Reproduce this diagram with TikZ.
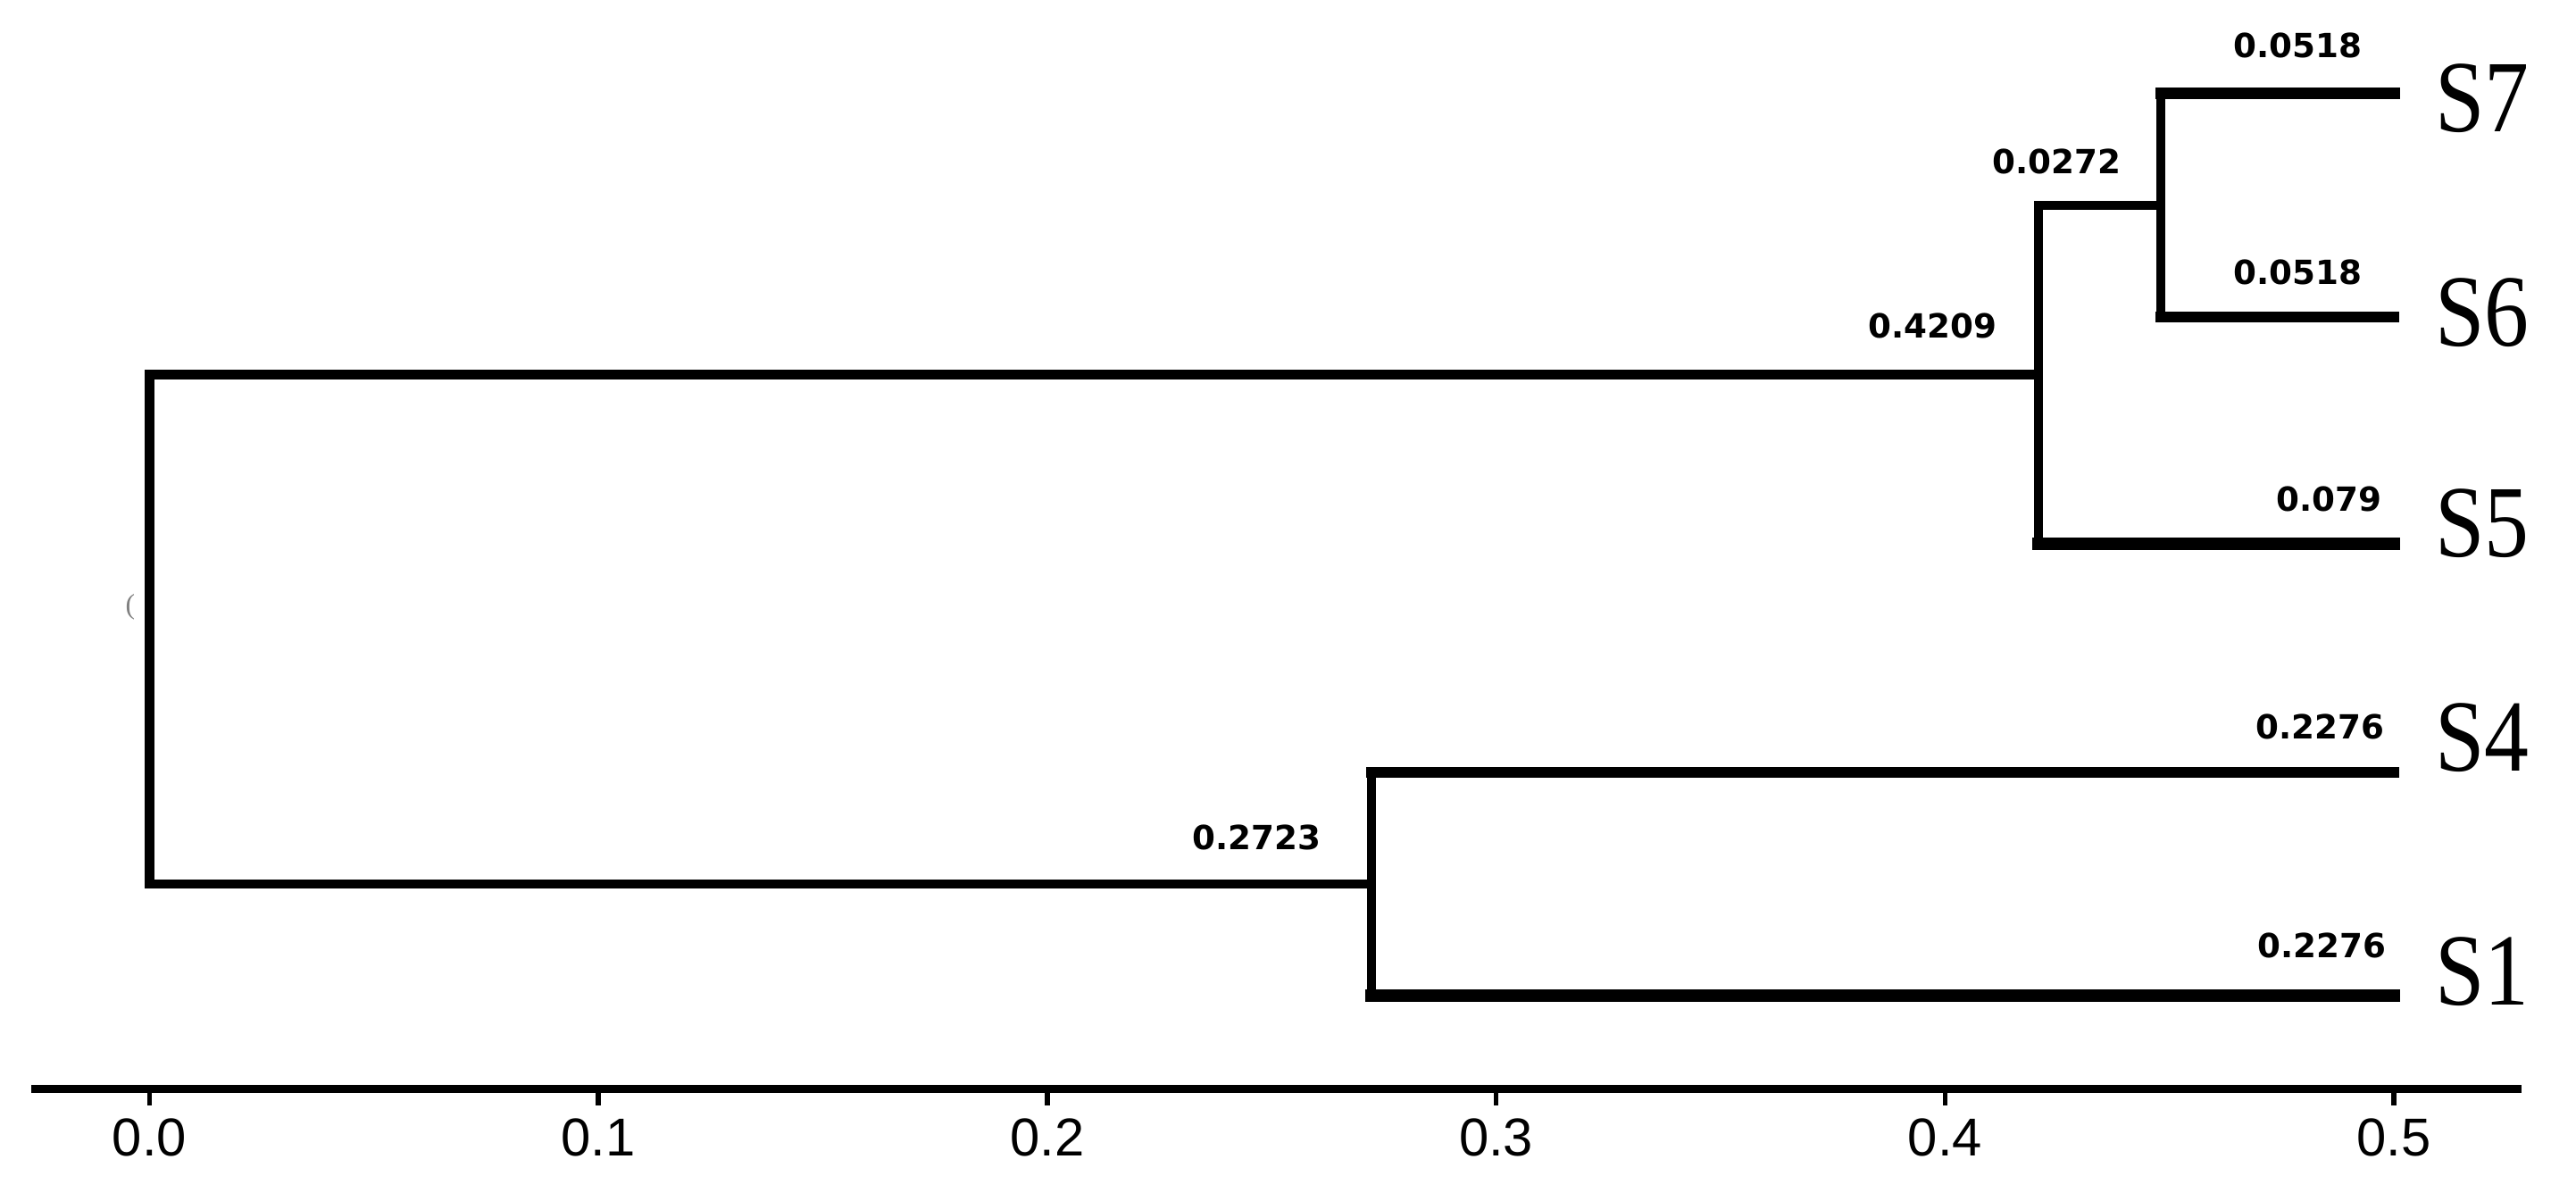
\documentclass[tikz,border=0pt]{standalone}
\usepackage{fontspec}
\usepackage{graphicx}
\setmainfont{Liberation Serif}
\newfontfamily\lenfont{DejaVu Sans}
\newfontfamily\tickfont{Liberation Sans}
\usepackage{tikz}

\tikzset{
	branch/.style = {line width = 3pt, line cap = rect},
	leafline/.style = {branch, line width = 3.5pt},
	axisline/.style = {line width = 2.6pt, line cap = rect},
	tickline/.style = {line width = 1.6pt},
	len/.style = {font = \lenfont\bfseries\fontsize{10.6}{12}\selectfont, inner sep = 0pt},
	taxon/.style = {font = \fontsize{32.6}{36}\selectfont, inner sep = 0pt},
	ticklab/.style = {font = \tickfont\fontsize{17}{19}\selectfont, inner sep = 0pt}
}

\begin{document}
\begin{tikzpicture}
	\useasboundingbox (0, 0) rectangle (28.85, 13.44);
	% joins of the tree
	\coordinate (root) at (1.675, 6.39);
	\coordinate (c2723) at (15.36, 3.54);
	\coordinate (c4209) at (22.83, 9.245);
	\coordinate (c0272) at (24.20, 11.14);
	% ends of the leaves
	\coordinate (e7) at (26.81, 12.39);
	\coordinate (e6) at (26.81, 9.89);
	\coordinate (e5) at (26.81, 7.35);
	\coordinate (e4) at (26.81, 4.79);
	\coordinate (e1) at (26.81, 2.29);
	% uprights
	\draw [branch] (root |- c2723) -- (root |- c4209);
	\draw [branch] (c4209 |- e5) -- (c4209 |- c0272);
	\draw [branch] (c0272 |- e6) -- (c0272 |- e7);
	\draw [branch] (c2723 |- e1) -- (c2723 |- e4);
	% branches
	\draw [branch] (root |- c4209) -- (c4209);
	\draw [branch] (root |- c2723) -- (c2723);
	\draw [branch] (c4209 |- c0272) -- (c0272);
	\draw [leafline, line width = 3.7pt] (c0272 |- e7) -- (e7);
	\draw [leafline, line width = 3.4pt] (c0272 |- e6) -- (e6);
	\draw [leafline, line width = 3.9pt] (c4209 |- e5) -- (e5);
	\draw [leafline, line width = 3.4pt] (c2723 |- e4) -- (e4);
	\draw [leafline, line width = 4pt] (c2723 |- e1) -- (e1);
	% branch lengths
	\node [len] (l4209) at (21.64, 9.79) {0.4209};
	\node [len] (l2723) at (14.07, 4.06) {0.2723};
	\node [len] (l0272) at (23.03, 11.63) {0.0272};
	\node [len] (l7) at (25.73, 12.93) {0.0518};
	\node [len] (l6) at (25.73, 10.39) {0.0518};
	\node [len] (l5) at (26.08, 7.85) {0.079};
	\node [len] (l4) at (25.98, 5.30) {0.2276};
	\node [len] (l1) at (26.00, 2.85) {0.2276};
	% samples
	\node [taxon] (s7) at (27.80, 12.34) {\scalebox{0.87}[1]{S7}};
	\node [taxon] (s6) at (27.80, 9.94) {\scalebox{0.87}[1]{S6}};
	\node [taxon] (s5) at (27.80, 7.58) {\scalebox{0.87}[1]{S5}};
	\node [taxon] (s4) at (27.80, 5.18) {\scalebox{0.87}[1]{S4}};
	\node [taxon] (s1) at (27.80, 2.56) {\scalebox{0.87}[1]{S1}};
	\node [text = gray, inner sep = 0pt, font = \fontsize{9}{9}\selectfont] (mark) at (1.46, 6.64) {(};
	% axis
	\coordinate (axl) at (0.40, 1.245);
	\coordinate (axr) at (28.19, 1.245);
	\draw [axisline] (axl) -- (axr);
	\foreach \t in {0, ..., 5} {
		\coordinate (tk\t) at ({1.675 + 5.027*\t}, 1.21);
		\draw [tickline] (tk\t) -- ++(0, -0.15);
		\node [ticklab] (tl\t) at ({1.675 + 5.027*\t}, 0.705) {0.\t};
	}
\end{tikzpicture}
\end{document}
